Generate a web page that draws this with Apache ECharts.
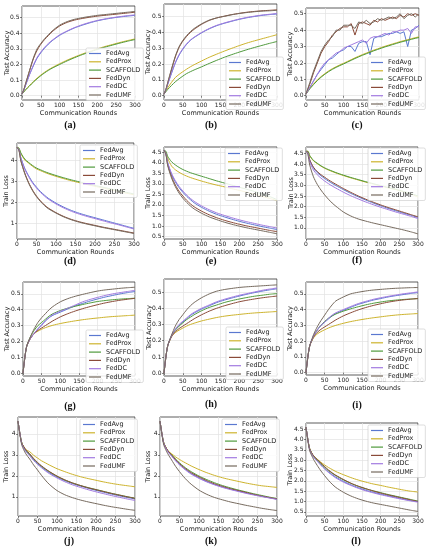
<!DOCTYPE html>
<html><head><meta charset="utf-8">
<script src="https://cdn.jsdelivr.net/npm/echarts@6/dist/echarts.min.js"></script>
<style>html,body{margin:0;padding:0;background:#fff}#c{width:431px;height:550px}</style>
</head><body><div id="c"></div>
<script>
const methods = ['FedAvg','FedProx','SCAFFOLD','FedDyn','FedDC','FedUMF'];
const colors = ['#5a78d0','#cdb32c','#4f9a3c','#8a4a38','#a27ae0','#766a5e'];
const rounds = [0,5,10,20,30,40,50,60,70,80,100,120,140,160,180,200,220,240,260,280,300];
const roundsC = [0,10,20,30,40,50,60,70,80,90,100,110,120,130,140,150,160,170,180,190,200,210,220,230,240,250,260,270,280,290,300];
const accTicks = [0,0.1,0.2,0.3,0.4,0.5];
const lossTicksInt = [1,2,3,4];
const lossTicksHalf = [0.5,1,1.5,2,2.5,3,3.5,4,4.5];
const lossTicksHalfF = [1,1.5,2,2.5,3,3.5,4,4.5];

const panelA = {
  FedAvg:  [0.01,0.035,0.07,0.135,0.19,0.24,0.275,0.305,0.33,0.352,0.387,0.413,0.435,0.452,0.467,0.48,0.49,0.498,0.505,0.51,0.515],
  FedProx: [0.01,0.025,0.04,0.065,0.09,0.112,0.132,0.15,0.166,0.18,0.205,0.228,0.248,0.267,0.284,0.3,0.315,0.328,0.341,0.353,0.364],
  SCAFFOLD:[0.01,0.024,0.038,0.062,0.086,0.108,0.128,0.146,0.162,0.176,0.2,0.223,0.244,0.263,0.28,0.296,0.311,0.324,0.337,0.349,0.36],
  FedDyn:  [0.01,0.04,0.08,0.16,0.235,0.29,0.33,0.36,0.385,0.41,0.447,0.47,0.485,0.495,0.503,0.51,0.515,0.52,0.525,0.53,0.535],
  FedDC:   [0.01,0.035,0.07,0.135,0.195,0.245,0.28,0.31,0.335,0.355,0.39,0.415,0.437,0.455,0.47,0.482,0.492,0.5,0.507,0.513,0.518],
  FedUMF:  [0.01,0.04,0.08,0.16,0.24,0.3,0.335,0.365,0.39,0.415,0.452,0.475,0.49,0.5,0.508,0.515,0.52,0.525,0.53,0.535,0.54]
};
const panelB = {
  FedAvg:  [0.01,0.035,0.073,0.142,0.206,0.256,0.294,0.325,0.35,0.368,0.398,0.423,0.443,0.458,0.471,0.483,0.493,0.501,0.508,0.513,0.517],
  FedProx: [0.01,0.03,0.05,0.085,0.115,0.135,0.152,0.168,0.183,0.196,0.22,0.243,0.263,0.282,0.3,0.317,0.333,0.347,0.36,0.373,0.386],
  SCAFFOLD:[0.01,0.025,0.04,0.065,0.088,0.107,0.124,0.14,0.152,0.163,0.183,0.204,0.224,0.243,0.26,0.276,0.291,0.305,0.318,0.331,0.343],
  FedDyn:  [0.01,0.04,0.08,0.165,0.245,0.305,0.345,0.375,0.4,0.42,0.452,0.476,0.492,0.503,0.513,0.521,0.528,0.533,0.537,0.54,0.543],
  FedDC:   [0.01,0.035,0.075,0.145,0.21,0.26,0.298,0.328,0.352,0.37,0.4,0.425,0.445,0.46,0.473,0.485,0.495,0.503,0.51,0.515,0.52],
  FedUMF:  [0.01,0.04,0.085,0.17,0.25,0.31,0.35,0.38,0.405,0.425,0.455,0.478,0.492,0.502,0.512,0.52,0.526,0.531,0.535,0.537,0.54]
};
const panelC = {
  FedAvg:  [0.01,0.05,0.09,0.13,0.16,0.19,0.22,0.23,0.25,0.27,0.28,0.3,0.3,0.27,0.32,0.33,0.33,0.25,0.35,0.36,0.36,0.37,0.38,0.38,0.39,0.38,0.39,0.3,0.4,0.41,0.43],
  FedProx: [0.01,0.045,0.072,0.096,0.117,0.135,0.151,0.165,0.177,0.188,0.198,0.209,0.22,0.231,0.241,0.251,0.26,0.269,0.278,0.286,0.294,0.302,0.309,0.316,0.323,0.33,0.336,0.342,0.348,0.354,0.359],
  SCAFFOLD:[0.01,0.042,0.068,0.092,0.113,0.131,0.147,0.161,0.173,0.184,0.194,0.205,0.216,0.227,0.237,0.247,0.256,0.265,0.274,0.282,0.29,0.298,0.305,0.312,0.319,0.326,0.332,0.338,0.344,0.35,0.355],
  FedDyn:  [0.01,0.07,0.14,0.2,0.26,0.3,0.33,0.37,0.39,0.41,0.42,0.42,0.44,0.37,0.44,0.45,0.44,0.43,0.46,0.45,0.47,0.46,0.47,0.48,0.47,0.49,0.48,0.5,0.49,0.5,0.49],
  FedDC:   [0.01,0.05,0.09,0.13,0.17,0.2,0.22,0.24,0.26,0.27,0.29,0.3,0.31,0.32,0.33,0.34,0.32,0.35,0.36,0.36,0.37,0.38,0.37,0.39,0.39,0.4,0.4,0.41,0.38,0.42,0.42],
  FedUMF:  [0.01,0.08,0.15,0.21,0.27,0.31,0.34,0.36,0.4,0.4,0.43,0.43,0.43,0.41,0.45,0.44,0.46,0.44,0.45,0.47,0.46,0.47,0.48,0.47,0.48,0.5,0.47,0.49,0.5,0.48,0.5]
};
const panelD = {
  FedAvg:  [4.6,4.5,4.1,3.6,3.25,2.95,2.72,2.52,2.35,2.2,1.97,1.78,1.62,1.49,1.38,1.28,1.18,1.08,0.98,0.88,0.78],
  FedProx: [4.6,4.55,4.3,4.0,3.85,3.7,3.58,3.5,3.42,3.35,3.23,3.12,3.02,2.93,2.84,2.76,2.68,2.6,2.52,2.44,2.36],
  SCAFFOLD:[4.6,4.56,4.33,4.04,3.88,3.74,3.62,3.54,3.46,3.39,3.27,3.16,3.06,2.97,2.88,2.8,2.72,2.64,2.56,2.48,2.4],
  FedDyn:  [4.6,4.46,3.97,3.38,2.93,2.58,2.3,2.08,1.89,1.74,1.52,1.34,1.2,1.09,1.0,0.92,0.84,0.77,0.7,0.63,0.56],
  FedDC:   [4.6,4.5,4.08,3.57,3.21,2.91,2.68,2.48,2.31,2.16,1.93,1.74,1.58,1.45,1.34,1.24,1.14,1.04,0.95,0.85,0.75],
  FedUMF:  [4.6,4.45,3.95,3.35,2.9,2.55,2.27,2.05,1.86,1.71,1.5,1.32,1.18,1.07,0.98,0.9,0.82,0.75,0.68,0.61,0.54]
};
const panelE = {
  FedAvg:  [4.6,4.45,3.98,3.45,3.1,2.82,2.6,2.41,2.25,2.1,1.88,1.7,1.55,1.43,1.32,1.22,1.13,1.05,0.97,0.9,0.83],
  FedProx: [4.6,4.5,4.2,3.85,3.67,3.55,3.45,3.37,3.3,3.24,3.13,3.03,2.94,2.86,2.77,2.69,2.6,2.51,2.41,2.31,2.2],
  SCAFFOLD:[4.6,4.55,4.3,4.05,3.9,3.78,3.68,3.6,3.53,3.47,3.36,3.25,3.14,3.04,2.94,2.84,2.74,2.64,2.52,2.4,2.25],
  FedDyn:  [4.6,4.42,3.9,3.35,2.95,2.65,2.42,2.22,2.05,1.91,1.7,1.53,1.39,1.27,1.17,1.08,1.0,0.93,0.86,0.79,0.73],
  FedDC:   [4.6,4.45,4.0,3.5,3.15,2.88,2.66,2.47,2.31,2.17,1.95,1.77,1.62,1.5,1.39,1.29,1.2,1.12,1.04,0.97,0.9],
  FedUMF:  [4.6,4.4,3.85,3.28,2.87,2.56,2.32,2.12,1.95,1.81,1.6,1.43,1.3,1.18,1.08,0.99,0.91,0.84,0.77,0.7,0.63]
};
const panelF = {
  FedAvg:  [4.6,4.55,4.18,3.82,3.6,3.45,3.32,3.2,3.09,2.99,2.8,2.62,2.46,2.31,2.17,2.04,1.92,1.81,1.7,1.6,1.49],
  FedProx: [4.6,4.6,4.38,4.15,4.02,3.9,3.8,3.72,3.65,3.58,3.46,3.35,3.25,3.15,3.06,2.97,2.88,2.8,2.7,2.6,2.45],
  SCAFFOLD:[4.6,4.6,4.4,4.17,4.04,3.92,3.82,3.74,3.67,3.6,3.48,3.37,3.27,3.17,3.08,2.99,2.9,2.82,2.72,2.62,2.5],
  FedDyn:  [4.6,4.55,4.2,3.85,3.65,3.5,3.38,3.26,3.15,3.05,2.85,2.67,2.5,2.35,2.21,2.08,1.96,1.85,1.74,1.63,1.52],
  FedDC:   [4.6,4.52,4.1,3.72,3.5,3.34,3.2,3.08,2.97,2.87,2.68,2.51,2.36,2.22,2.09,1.97,1.86,1.75,1.65,1.55,1.44],
  FedUMF:  [4.6,4.45,3.95,3.4,3.05,2.78,2.55,2.35,2.17,2.02,1.75,1.56,1.42,1.32,1.23,1.15,1.07,0.99,0.91,0.82,0.72]
};
const panelG = {
  FedAvg:  [0,0.1,0.17,0.22,0.25,0.28,0.305,0.33,0.35,0.365,0.385,0.405,0.425,0.44,0.455,0.468,0.48,0.49,0.5,0.508,0.515],
  FedProx: [0,0.1,0.17,0.22,0.25,0.265,0.277,0.287,0.295,0.302,0.313,0.322,0.33,0.337,0.343,0.348,0.353,0.357,0.36,0.363,0.366],
  SCAFFOLD:[0,0.1,0.17,0.23,0.27,0.3,0.32,0.34,0.36,0.375,0.395,0.41,0.422,0.433,0.443,0.452,0.458,0.463,0.467,0.47,0.473],
  FedDyn:  [0,0.1,0.17,0.22,0.25,0.27,0.285,0.3,0.315,0.33,0.355,0.375,0.392,0.407,0.42,0.432,0.443,0.452,0.46,0.466,0.472],
  FedDC:   [0,0.1,0.17,0.22,0.25,0.28,0.3,0.33,0.35,0.37,0.39,0.41,0.43,0.45,0.465,0.478,0.49,0.5,0.508,0.515,0.522],
  FedUMF:  [0,0.1,0.17,0.23,0.28,0.32,0.35,0.375,0.4,0.42,0.45,0.47,0.485,0.497,0.508,0.518,0.525,0.53,0.535,0.539,0.542]
};
const panelH = {
  FedAvg:  [0,0.1,0.17,0.23,0.27,0.295,0.315,0.335,0.355,0.37,0.395,0.415,0.435,0.45,0.463,0.475,0.486,0.496,0.505,0.513,0.52],
  FedProx: [0,0.1,0.17,0.225,0.25,0.265,0.278,0.29,0.3,0.308,0.322,0.333,0.343,0.351,0.357,0.362,0.367,0.371,0.374,0.377,0.38],
  SCAFFOLD:[0,0.1,0.17,0.23,0.265,0.29,0.31,0.33,0.345,0.36,0.385,0.405,0.42,0.435,0.447,0.457,0.466,0.474,0.48,0.486,0.49],
  FedDyn:  [0,0.1,0.17,0.225,0.255,0.275,0.29,0.305,0.32,0.335,0.36,0.382,0.4,0.415,0.428,0.44,0.449,0.457,0.464,0.47,0.475],
  FedDC:   [0,0.1,0.17,0.23,0.27,0.3,0.32,0.34,0.36,0.375,0.4,0.42,0.44,0.455,0.468,0.48,0.49,0.5,0.51,0.518,0.525],
  FedUMF:  [0,0.1,0.17,0.235,0.29,0.33,0.36,0.39,0.415,0.435,0.465,0.488,0.505,0.515,0.522,0.528,0.532,0.535,0.538,0.541,0.544]
};
const panelI = {
  FedAvg:  [0,0.1,0.17,0.23,0.27,0.3,0.32,0.34,0.36,0.375,0.395,0.415,0.433,0.447,0.46,0.47,0.48,0.488,0.495,0.502,0.508],
  FedProx: [0,0.1,0.17,0.22,0.245,0.26,0.272,0.283,0.292,0.3,0.313,0.324,0.333,0.341,0.348,0.354,0.36,0.365,0.369,0.372,0.375],
  SCAFFOLD:[0,0.1,0.17,0.23,0.27,0.3,0.325,0.345,0.36,0.372,0.39,0.405,0.418,0.43,0.44,0.448,0.455,0.46,0.464,0.467,0.47],
  FedDyn:  [0,0.1,0.17,0.225,0.255,0.275,0.29,0.305,0.32,0.335,0.36,0.38,0.398,0.413,0.426,0.437,0.447,0.455,0.461,0.466,0.47],
  FedDC:   [0,0.1,0.17,0.23,0.27,0.3,0.32,0.345,0.365,0.38,0.4,0.42,0.438,0.452,0.465,0.475,0.484,0.492,0.5,0.506,0.512],
  FedUMF:  [0,0.1,0.17,0.24,0.29,0.33,0.365,0.4,0.43,0.455,0.48,0.5,0.51,0.518,0.524,0.528,0.532,0.535,0.537,0.539,0.54]
};
const panelJ = {
  FedAvg:  [4.6,4.0,3.55,3.2,3.0,2.77,2.58,2.42,2.28,2.15,1.94,1.77,1.63,1.51,1.41,1.31,1.22,1.13,1.05,0.97,0.9],
  FedProx: [4.6,4.0,3.55,3.25,3.15,2.98,2.85,2.72,2.62,2.52,2.34,2.2,2.07,1.96,1.87,1.79,1.71,1.64,1.58,1.53,1.48],
  SCAFFOLD:[4.6,4.0,3.55,3.2,3.02,2.8,2.62,2.46,2.32,2.2,1.98,1.8,1.66,1.54,1.44,1.35,1.26,1.17,1.09,1.01,0.94],
  FedDyn:  [4.6,4.0,3.55,3.25,3.05,2.83,2.64,2.48,2.34,2.21,1.99,1.81,1.66,1.54,1.43,1.34,1.25,1.16,1.08,1.0,0.93],
  FedDC:   [4.6,4.0,3.5,3.15,2.95,2.73,2.55,2.39,2.24,2.11,1.9,1.72,1.57,1.45,1.34,1.24,1.15,1.06,0.98,0.9,0.83],
  FedUMF:  [4.6,3.95,3.45,3.05,2.8,2.52,2.28,2.03,1.8,1.6,1.3,1.1,0.96,0.85,0.76,0.68,0.6,0.53,0.47,0.41,0.36]
};
const panelK = {
  FedAvg:  [4.6,4.0,3.52,3.18,2.96,2.74,2.55,2.38,2.24,2.11,1.9,1.73,1.59,1.47,1.37,1.28,1.19,1.11,1.03,0.96,0.89],
  FedProx: [4.6,4.0,3.55,3.2,3.05,2.9,2.78,2.67,2.57,2.47,2.3,2.15,2.02,1.91,1.82,1.74,1.66,1.59,1.53,1.49,1.45],
  SCAFFOLD:[4.6,4.0,3.55,3.2,3.0,2.8,2.62,2.46,2.32,2.2,1.99,1.82,1.67,1.54,1.43,1.33,1.24,1.15,1.07,0.99,0.92],
  FedDyn:  [4.6,4.0,3.55,3.2,2.98,2.77,2.58,2.42,2.28,2.15,1.95,1.77,1.62,1.5,1.39,1.3,1.21,1.12,1.04,0.97,0.9],
  FedDC:   [4.6,4.0,3.52,3.15,2.93,2.71,2.52,2.36,2.21,2.08,1.88,1.71,1.57,1.45,1.35,1.26,1.17,1.09,1.02,0.95,0.88],
  FedUMF:  [4.6,3.95,3.45,3.05,2.75,2.45,2.2,1.97,1.77,1.6,1.32,1.12,0.97,0.86,0.76,0.68,0.6,0.53,0.46,0.4,0.35]
};
const panelL = {
  FedAvg:  [4.6,4.0,3.52,3.18,2.98,2.78,2.6,2.44,2.3,2.18,1.98,1.81,1.67,1.55,1.45,1.36,1.28,1.2,1.12,1.05,0.99],
  FedProx: [4.6,4.0,3.55,3.2,3.05,2.9,2.77,2.65,2.55,2.45,2.3,2.16,2.04,1.94,1.85,1.78,1.7,1.63,1.56,1.5,1.46],
  SCAFFOLD:[4.6,4.0,3.55,3.2,3.02,2.83,2.66,2.5,2.37,2.25,2.05,1.88,1.74,1.62,1.52,1.43,1.34,1.26,1.18,1.1,1.02],
  FedDyn:  [4.6,4.0,3.55,3.22,3.04,2.86,2.69,2.53,2.39,2.27,2.07,1.89,1.74,1.62,1.51,1.41,1.32,1.24,1.16,1.08,1.0],
  FedDC:   [4.6,4.0,3.5,3.15,2.95,2.75,2.57,2.41,2.27,2.14,1.94,1.78,1.64,1.52,1.42,1.33,1.25,1.17,1.1,1.03,0.97],
  FedUMF:  [4.6,3.95,3.45,3.05,2.75,2.48,2.25,2.03,1.84,1.68,1.45,1.27,1.13,1.02,0.93,0.86,0.79,0.72,0.65,0.58,0.52]
};

const ACC = 'Test Accuracy', LOSS = 'Train Loss';
const f1 = v => v.toFixed(1), f0 = v => String(Math.round(v));
const panels = [
  {id:'a', d:panelA, x:rounds, yName:ACC, ticks:accTicks, fmt:f1, yMin:-0.028, yMax:0.575, g:[22,6,113,94], nx:7, lg:[86,48], cap:[70,125], smooth:0.25},
  {id:'b', d:panelB, x:rounds, yName:ACC, ticks:accTicks, fmt:f1, yMin:-0.027, yMax:0.58, g:[164,4,113,96], nx:148, lg:[226,57], cap:[211,125], smooth:0.25},
  {id:'c', d:panelC, x:roundsC, yName:ACC, ticks:accTicks, fmt:f1, yMin:-0.026, yMax:0.535, g:[306,8,113,92], nx:290, lg:[368,57], cap:[357,125], smooth:0},
  {id:'d', d:panelD, x:rounds, yName:LOSS, ticks:lossTicksInt, fmt:f0, yMin:0.28, yMax:4.8, g:[17,143,117,96], nx:6, lg:[80,145], cap:[70,261], smooth:0.25},
  {id:'e', d:panelE, x:rounds, yName:LOSS, ticks:lossTicksHalf, fmt:f1, yMin:0.38, yMax:4.75, g:[164,147,113,92], nx:148, lg:[225,148], cap:[211,261], smooth:0.25},
  {id:'f', d:panelF, x:rounds, yName:LOSS, ticks:lossTicksHalfF, fmt:f1, yMin:0.48, yMax:4.8, g:[306,147,112,92], nx:291, lg:[368,148], cap:[357,260], smooth:0.25},
  {id:'g', d:panelG, x:rounds, yName:ACC, ticks:accTicks, fmt:f1, yMin:-0.018, yMax:0.575, g:[23,282,112,94], nx:7, lg:[86,330], cap:[70,406], smooth:0.25},
  {id:'h', d:panelH, x:rounds, yName:ACC, ticks:accTicks, fmt:f1, yMin:-0.017, yMax:0.58, g:[164,279,113,97], nx:149, lg:[226,327], cap:[211,404], smooth:0.25},
  {id:'i', d:panelI, x:rounds, yName:ACC, ticks:accTicks, fmt:f1, yMin:-0.015, yMax:0.575, g:[306,282,112,93], nx:290, lg:[368,329], cap:[357,405], smooth:0.25},
  {id:'j', d:panelJ, x:rounds, yName:LOSS, ticks:lossTicksInt, fmt:f0, yMin:0.09, yMax:4.8, g:[18,417,117,99], nx:6, lg:[80,419], cap:[69,541], smooth:0.25},
  {id:'k', d:panelK, x:rounds, yName:LOSS, ticks:lossTicksInt, fmt:f0, yMin:0.09, yMax:4.8, g:[160,417,117,99], nx:148, lg:[222,419], cap:[211,541], smooth:0.25},
  {id:'l', d:panelL, x:rounds, yName:LOSS, ticks:lossTicksHalf, fmt:f1, yMin:0.3, yMax:4.8, g:[306,423,112,93], nx:290, lg:[368,425], cap:[356,541], smooth:0.25}
];

const FONT = 'DejaVu Sans';
const grids=[], xAxes=[], yAxes=[], series=[], legends=[], graphics=[];
panels.forEach((p,i)=>{
  grids.push({left:p.g[0], top:p.g[1], width:p.g[2], height:p.g[3], show:true, borderColor:'#333', borderWidth:0.8});
  xAxes.push({type:'value', gridIndex:i, min:0, max:300, interval:50,
    name:'Communication Rounds', nameLocation:'middle', nameGap:9,
    nameTextStyle:{fontSize:6.5, color:'#222', fontFamily:FONT},
    axisLine:{show:false}, axisTick:{show:true, length:2, lineStyle:{color:'#333', width:0.6}},
    axisLabel:{fontSize:6, margin:2.5, color:'#222', fontFamily:FONT},
    splitLine:{show:true, lineStyle:{color:'#e2e2e2', width:0.7}}});
  yAxes.push({type:'value', gridIndex:i, min:p.yMin, max:p.yMax,
    axisLine:{show:false},
    axisTick:{show:true, length:2, customValues:p.ticks, lineStyle:{color:'#333', width:0.6}},
    axisLabel:{fontSize:6, margin:2.5, color:'#222', fontFamily:FONT, customValues:p.ticks, formatter:p.fmt},
    splitLine:{show:true, lineStyle:{color:'#e2e2e2', width:0.7}}});
  methods.forEach((m,k)=>{
    series.push({name:m, type:'line', xAxisIndex:i, yAxisIndex:i,
      data:p.x.map((r,j)=>[r, p.d[m][j]]),
      symbol:'none', smooth:p.smooth, clip:true,
      lineStyle:{width:1, color:colors[k]}, itemStyle:{color:colors[k]},
      emphasis:{disabled:true}, silent:true});
  });
  legends.push({data:methods, orient:'vertical', left:p.lg[0], top:p.lg[1],
    icon:'rect', itemWidth:12, itemHeight:1.2, itemGap:1.3, padding:[2,3,2,3],
    backgroundColor:'rgba(255,255,255,0.85)', borderColor:'#c8c8c8', borderWidth:0.6, borderRadius:1.5,
    textStyle:{fontSize:6.5, color:'#222', fontFamily:FONT, lineHeight:7}, selectedMode:false});
  graphics.push({type:'text', x:p.nx, y:p.g[1]+p.g[3]/2, rotation:Math.PI/2, z:100,
    style:{text:p.yName, fontSize:6.5, fontFamily:FONT, fill:'#222', align:'center', verticalAlign:'middle'}});
  graphics.push({type:'text', x:p.cap[0], y:p.cap[1], z:100,
    style:{text:'('+p.id+')', fontSize:10, fontWeight:'bold', fontFamily:'Liberation Serif', fill:'#111', align:'center', verticalAlign:'middle'}});
});

const chart = echarts.init(document.getElementById('c'));
chart.setOption({animation:false, backgroundColor:'#fff', grid:grids, xAxis:xAxes, yAxis:yAxes, series, legend:legends, graphic:graphics});
</script></body></html>
